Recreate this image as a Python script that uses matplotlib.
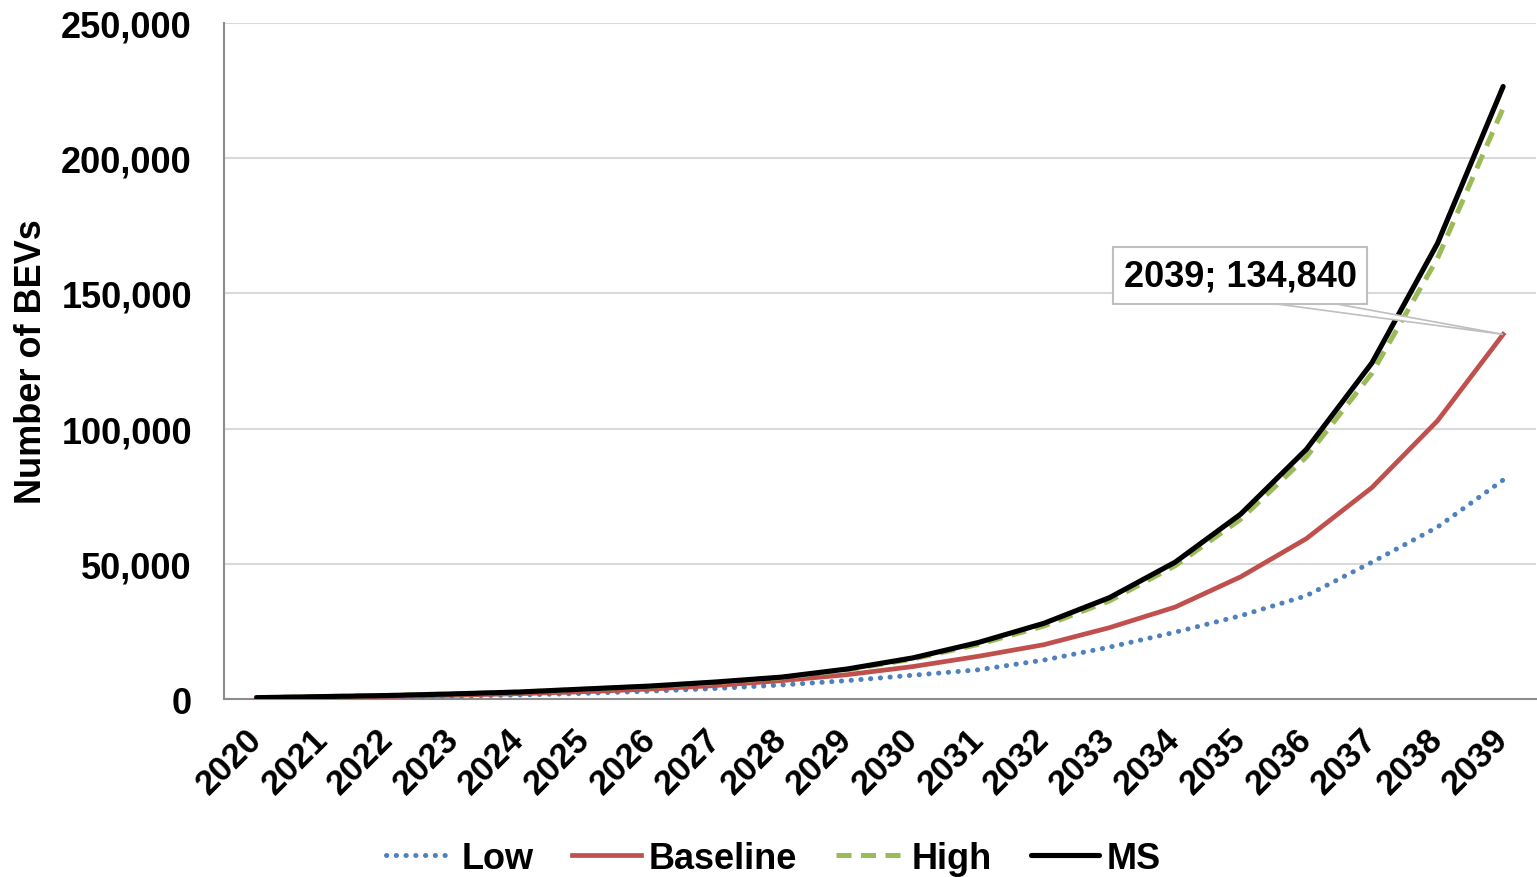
import numpy as np
import matplotlib.pyplot as plt
from matplotlib.patches import Polygon
from matplotlib.ticker import FuncFormatter

plt.rcParams['font.family'] = ['Liberation Sans', 'DejaVu Sans']
plt.rcParams['font.weight'] = 'bold'
plt.rcParams['axes.labelweight'] = 'bold'

years = [str(y) for y in range(2020, 2040)]

# BEV fleet projections per scenario
low = [500, 600, 800, 1100, 1500, 2100, 2900, 3900, 5200, 6800,
       8800, 10800, 14400, 19200, 24700, 30800, 38200, 50600, 63600, 81000]
baseline = [500, 700, 1000, 1400, 2000, 2700, 3700, 5000, 6800, 9000,
            12000, 15800, 20100, 26400, 34000, 45200, 59300, 78200, 102900, 134840]
high = [500, 900, 1300, 1850, 2550, 3600, 4700, 6100, 7900, 10800,
        14800, 20200, 27000, 36300, 49300, 66500, 89500, 120500, 163000, 218500]
ms = [500, 900, 1300, 1900, 2600, 3700, 4800, 6300, 8100, 11100,
      15200, 20900, 28000, 37500, 50600, 68400, 92300, 124300, 168500, 226500]

fig = plt.figure(figsize=(15.37, 8.78), dpi=100)
ax = fig.add_axes([0.1457, 0.2027, 0.8536, 0.77])

x = np.arange(len(years))
ax.plot(x, low, color='#4f81bd', lw=3.6, linestyle=(0, (0.05, 1.9)),
        dash_capstyle='round', label='Low', zorder=3)
ax.plot(x, baseline, color='#c0504d', lw=3.4, label='Baseline', zorder=3)
ax.plot(x, high, color='#9bbb59', lw=3.6, linestyle=(0, (3.0, 1.9)),
        label='High', zorder=3)
ax.plot(x, ms, color='black', lw=3.7, label='MS', zorder=4,
        solid_capstyle='round')

ax.set_xlim(-0.5, len(years) - 0.5)
ax.set_ylim(0, 250000)
ax.set_yticks(np.arange(0, 250001, 50000))
ax.yaxis.set_major_formatter(FuncFormatter(lambda v, p: f'{int(v):,}'))
ax.set_xticks(x)
ax.set_xticklabels(years, rotation=45, ha='right', va='center',
                   rotation_mode='anchor')
ax.tick_params(axis='y', length=0, pad=23, labelsize=26)
ax.tick_params(axis='x', length=0, pad=25, labelsize=25)
ax.grid(axis='y', color='#d9d9d9', lw=1.5)
ax.set_axisbelow(True)
for s in ['top', 'right']:
    ax.spines[s].set_visible(False)
for s in ['left', 'bottom']:
    ax.spines[s].set_color('#8c8c8c')
    ax.spines[s].set_linewidth(1.5)

ax.set_ylabel('Number of BEVs', fontsize=26)
ax.yaxis.set_label_coords(-0.133, 0.5)

# callout for the final baseline value
last = len(years) - 1
callout = Polygon([[15.33, 146800], [16.3, 146800], [last, baseline[-1]]],
                  closed=True, facecolor='white', edgecolor='#bfbfbf',
                  lw=1.2, zorder=5)
ax.add_patch(callout)
ax.text(14.99, 156500, f'{years[-1]}; {baseline[-1]:,}', fontsize=26,
        ha='center', va='center', zorder=6,
        bbox=dict(boxstyle='square,pad=0.3', facecolor='white',
                  edgecolor='#bfbfbf', lw=1.5))

fig.legend(loc='center', bbox_to_anchor=(0.503, 0.021), ncol=4, frameon=False,
           fontsize=26, handlelength=1.9, handletextpad=0.2,
           columnspacing=1.08)

fig.savefig('out.png', dpi=100)
